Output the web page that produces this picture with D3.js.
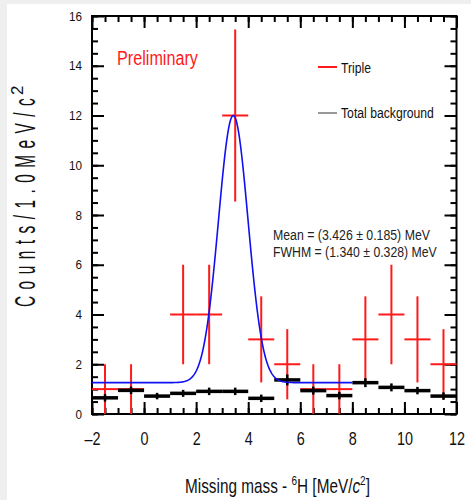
<!DOCTYPE html>
<html>
<head>
<meta charset="utf-8">
<script src="https://cdn.jsdelivr.net/npm/d3@7"></script>
<style>
  body { margin: 0; background: #efefef; }
  svg { display: block; }
  text { font-family: "Liberation Sans", Arial, sans-serif; }
</style>
</head>
<body>
<div id="chart"></div>
<script>

// bins of 1 MeV/c^2 (centres)
var binCenters = [-1.5, -0.5, 0.5, 1.5, 2.5, 3.5, 4.5, 5.5, 6.5, 7.5, 8.5, 9.5, 10.5, 11.5];

// triple coincidence counts and errors
var tripleCounts = [1, 1, 0, 4, 4, 12, 3, 2, 1, 1, 3, 4, 3, 2];
var tripleErrors = [1, 1, 0, 2, 2, 3.46, 1.73, 1.41, 1, 1, 1.73, 2, 1.73, 1.41];

// total background estimate
var bgCounts = [0.65, 0.95, 0.72, 0.83, 0.91, 0.91, 0.63, 1.37, 0.94, 0.74, 1.26, 1.07, 0.94, 0.72];
var bgErrors = [0.15, 0.15, 0.13, 0.14, 0.15, 0.15, 0.15, 0.22, 0.16, 0.15, 0.18, 0.16, 0.15, 0.15];

// fit parameters (gaussian + flat background)
var fitMean = 3.426, fitFwhm = 1.340, fitPeak = 12.0, fitBase = 1.26, fitRange = [-2, 8];

var xMajorTicks = [-2, 0, 2, 4, 6, 8, 10, 12];
var yMajorTicks = [0, 2, 4, 6, 8, 10, 12, 14, 16];

var W = 471, H = 500;
var svg = d3.select("#chart").append("svg")
    .attr("width", W)
    .attr("height", H);

// white panel (light grey edge left/top)
svg.append("rect")
    .attr("x", 7).attr("y", 4)
    .attr("width", W - 7).attr("height", H - 4)
    .attr("fill", "#fff");

var x = d3.scaleLinear().domain([-2, 12]).range([92, 456.5]);
var y = d3.scaleLinear().domain([0, 16]).range([414, 16]);

var xMinor = d3.range(-2, 12.001, 0.5), yMinor = d3.range(0, 16.001, 0.5);

function styleAxis(g) {
  g.select(".domain").remove();
  g.selectAll("line").attr("stroke", "#000").attr("stroke-width", 2);
}

// bottom
svg.append("g").attr("transform", "translate(0," + y(0) + ")")
    .call(d3.axisBottom(x).tickValues(xMinor).tickSize(-6).tickFormat(""))
    .call(styleAxis);
var xAx = svg.append("g").attr("transform", "translate(0," + y(0) + ")")
    .call(d3.axisBottom(x).tickValues(xMajorTicks).tickSize(-12).tickPadding(18)
      .tickFormat(function (d) { return d < 0 ? "\u2013" + (-d) : d; }))
    .call(styleAxis);
xAx.selectAll("text")
    .attr("fill", "#111")
    .attr("transform", "scale(0.8,1)")
    .style("font-size", "18px");

// top
svg.append("g").attr("transform", "translate(0," + y(16) + ")")
    .call(d3.axisTop(x).tickValues(xMinor).tickSize(-6).tickFormat(""))
    .call(styleAxis);
svg.append("g").attr("transform", "translate(0," + y(16) + ")")
    .call(d3.axisTop(x).tickValues(xMajorTicks).tickSize(-12).tickFormat(""))
    .call(styleAxis);

// left
svg.append("g").attr("transform", "translate(" + x(-2) + ",0)")
    .call(d3.axisLeft(y).tickValues(yMinor).tickSize(-6).tickFormat(""))
    .call(styleAxis);
var yAx = svg.append("g").attr("transform", "translate(" + x(-2) + ",0)")
    .call(d3.axisLeft(y).tickValues(yMajorTicks).tickSize(-12).tickPadding(11))
    .call(styleAxis);
yAx.selectAll("text")
    .attr("fill", "#111")
    .attr("transform", "scale(0.9,1)")
    .style("font-size", "13px");

// right
svg.append("g").attr("transform", "translate(" + x(12) + ",0)")
    .call(d3.axisRight(y).tickValues(yMinor).tickSize(-6).tickFormat(""))
    .call(styleAxis);
svg.append("g").attr("transform", "translate(" + x(12) + ",0)")
    .call(d3.axisRight(y).tickValues(yMajorTicks).tickSize(-12).tickFormat(""))
    .call(styleAxis);

// frame
svg.append("rect")
    .attr("x", x(-2)).attr("y", y(16))
    .attr("width", x(12) - x(-2)).attr("height", y(0) - y(16))
    .attr("fill", "none").attr("stroke", "#000").attr("stroke-width", 2);

var triple = binCenters.map(function (c, i) {
  return {c: c, v: tripleCounts[i], e: tripleErrors[i]};
}).filter(function (d) { return d.v > 0; });

var bg = binCenters.map(function (c, i) {
  return {c: c, v: bgCounts[i], e: bgErrors[i]};
});

// red data points
var red = svg.append("g").attr("stroke", "#ff1a1a").attr("stroke-width", 2);
red.selectAll(".hx").data(triple).enter().append("line")
    .attr("x1", function (d) { return x(d.c - 0.5); })
    .attr("x2", function (d) { return x(d.c + 0.5); })
    .attr("y1", function (d) { return y(d.v); })
    .attr("y2", function (d) { return y(d.v); });
red.selectAll(".vy").data(triple).enter().append("line")
    .attr("x1", function (d) { return x(d.c); })
    .attr("x2", function (d) { return x(d.c); })
    .attr("y1", function (d) { return y(Math.max(0, d.v - d.e)); })
    .attr("y2", function (d) { return y(d.v + d.e); });

// black background points
var blk = svg.append("g").attr("stroke", "#000");
blk.selectAll(".hx").data(bg).enter().append("line")
    .attr("stroke-width", 3.5)
    .attr("x1", function (d) { return x(d.c - 0.5); })
    .attr("x2", function (d) { return x(d.c + 0.5); })
    .attr("y1", function (d) { return y(d.v); })
    .attr("y2", function (d) { return y(d.v); });
blk.selectAll(".vy").data(bg).enter().append("line")
    .attr("stroke-width", 2.5)
    .attr("x1", function (d) { return x(d.c); })
    .attr("x2", function (d) { return x(d.c); })
    .attr("y1", function (d) { return y(d.v - d.e); })
    .attr("y2", function (d) { return y(d.v + d.e); });

// fit curve
var sigma = fitFwhm / 2.3548;
var fitPts = d3.range(fitRange[0], fitRange[1] + 0.001, 0.02).map(function (m) {
  return [m, fitBase + (fitPeak - fitBase) * Math.exp(-Math.pow(m - fitMean, 2) / (2 * sigma * sigma))];
});
svg.append("path")
    .datum(fitPts)
    .attr("fill", "none")
    .attr("stroke", "#1010f0")
    .attr("stroke-width", 1.6)
    .attr("d", d3.line().x(function (d) { return x(d[0]); }).y(function (d) { return y(d[1]); }));

// text squeezed horizontally to a given width (narrow font look)
function squeeze(g, tx, ty, width) {
  var w = g.node().getBBox().width;
  g.attr("transform", "translate(" + tx + "," + ty + ") scale(" + (width / w) + ",1)");
}
function label(tx, ty, str, size, color, width) {
  var g = svg.append("g");
  g.append("text").attr("fill", color).style("font-size", size + "px").text(str);
  squeeze(g, tx, ty, width);
  return g;
}

label(117, 65, "Preliminary", 20, "#ff1a1a", 81);

// legend
svg.append("line").attr("x1", 318).attr("x2", 337).attr("y1", 67).attr("y2", 67)
    .attr("stroke", "#ff1a1a").attr("stroke-width", 2);
label(341, 72.5, "Triple", 15, "#111", 30);
svg.append("line").attr("x1", 318).attr("x2", 337).attr("y1", 113).attr("y2", 113)
    .attr("stroke", "#333").attr("stroke-width", 1);
label(341, 117.5, "Total background", 15, "#111", 93);

label(273, 240, "Mean = (3.426 \u00b1 0.185) MeV", 15, "#222", 157);
label(273, 257, "FWHM = (1.340 \u00b1 0.328) MeV", 15, "#222", 164);

// x title
var xg = svg.append("g");
var xt = xg.append("text").attr("fill", "#111").style("font-size", "20px");
xt.append("tspan").text("Missing mass - ");
xt.append("tspan").attr("dy", -8).style("font-size", "13px").text("6");
xt.append("tspan").attr("dy", 8).text("H [MeV/");
xt.append("tspan").style("font-style", "italic").text("c");
xt.append("tspan").attr("dy", -8).style("font-size", "13px").text("2");
xt.append("tspan").attr("dy", 8).text("]");
squeeze(xg, 185, 493, 185);

// y title (rotated)
var yg = svg.append("g");
yg.append("text").attr("fill", "#111").style("font-size", "29px")
    .style("letter-spacing", "2px")
    .text("C o u n t s  /  1 . 0  M e V / c");
var yw = yg.node().getBBox().width;
yg.attr("transform", "translate(35,307) rotate(-90) scale(" + (210 / yw) + ",1)");
svg.append("text")
    .attr("transform", "translate(23,95) rotate(-90)")
    .attr("fill", "#111").style("font-size", "17px")
    .text("2");

</script>
</body>
</html>
